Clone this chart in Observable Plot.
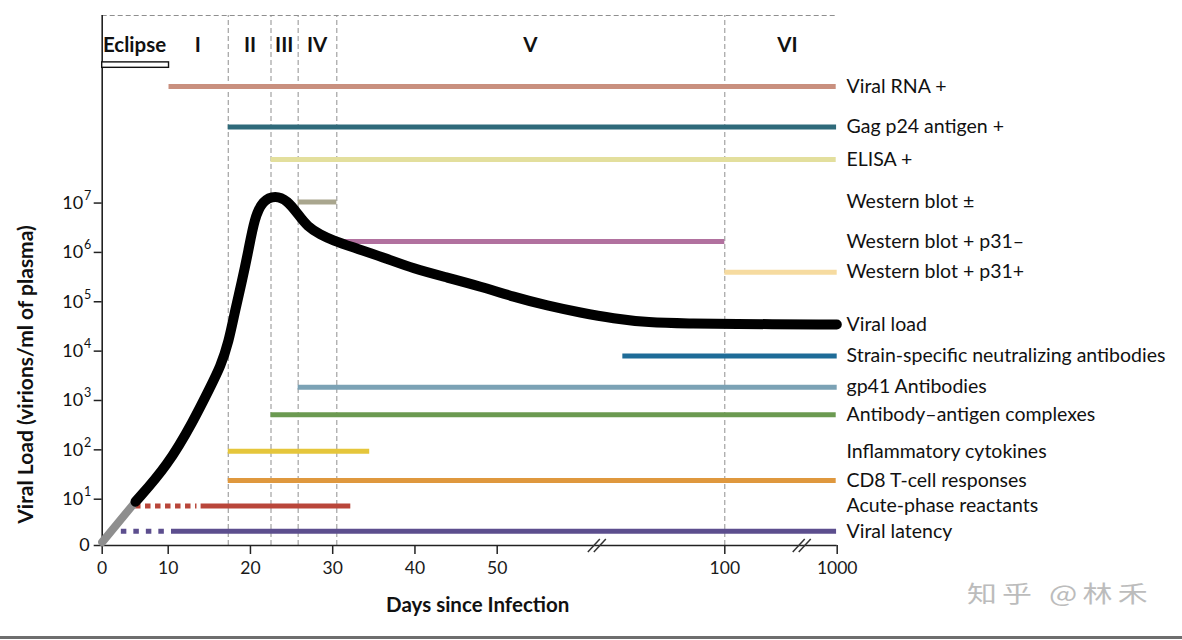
<!DOCTYPE html>
<html><head><meta charset="utf-8">
<script src="https://cdn.jsdelivr.net/npm/d3@7"></script>
<script src="https://cdn.jsdelivr.net/npm/@observablehq/plot@0.6"></script>
<style>
body{margin:0;background:#fff;}
#wrap{position:relative;width:1182px;height:640px;overflow:hidden;background:#fff;}
#wm{position:absolute;left:967px;top:575px;font:23px "Noto Sans CJK SC",sans-serif;color:#bcbcbc;letter-spacing:4px;white-space:nowrap;transform:scaleX(1.3);transform-origin:0 50%;}
#bl{position:absolute;left:0;top:636px;width:1182px;height:3px;background:#6e6e6e;}
#chart [aria-label*="axis"] line, #chart [aria-label*="axis"] path{stroke:#222;stroke-width:1.5;}
</style></head><body>
<div id="wrap"><div id="chart"></div><div id="wm">知乎 @林禾</div><div id="bl"></div></div>
<script>
// ---- days axis with breaks: day -> position along the axis ----
const xDomain = [0, 10, 50, 100, 1000];
const xAxisPos = [0, 66, 395, 622.6, 735];
const xTicks = [0, 10, 20, 30, 40, 50, 100, 1000];
const axisBreaks = [72, 720];
// ---- viral load axis (log10 virions/ml); "0" sits just below 10^1 ----
const yTickExps = [1, 2, 3, 4, 5, 6, 7];
const yZero = 0.062;
const yTop = 10.8;

// ---- stages ----
const stageBounds = [17.3, 22.5, 25.8, 30.5, 100];
const stageNames = ["Eclipse", "I", "II", "III", "IV", "V", "VI"];
const stageLabelDays = [4.9, 13.6, 19.95, 24.1, 28.1, 57.3, 602];
const stageLabelLevel = 10.19;
const eclipseBox = {start: 0, end: 10.1, low: 9.74, high: 9.85};

// ---- viral load curve (days, log10 virions/ml) ----
const earlyDays = [0, 5.05];
const earlyLog = [0.13, 0.95];
const vlDays = [5.05, 9.9, 13.08, 15.14, 16.36, 17.33, 18.18, 18.91, 19.76, 20.49, 21.46, 23.04, 24.5, 25.71, 26.93, 28.51, 30.09, 32.16, 36.17, 39.82, 43.95, 47.97, 53.58, 61.05, 68.3, 75.55, 83.02, 92.5, 99.93, 997];
const vlLog  = [0.95, 1.68, 2.59, 3.28, 3.69, 4.17, 4.86, 5.37, 6.04, 6.69, 7.05, 7.16, 7.05, 6.79, 6.52, 6.36, 6.24, 6.12, 5.90, 5.67, 5.49, 5.31, 5.10, 4.92, 4.78, 4.66, 4.58, 4.56, 4.55, 4.54];
const vlLabel = "Viral load";
const vlLabelLevel = 4.54;

// ---- markers ----
const barNames = ["Viral RNA +", "Gag p24 antigen +", "ELISA +", "Western blot ±", "Western blot + p31–", "Western blot + p31+", "Strain-specific neutralizing antibodies", "gp41 Antibodies", "Antibody–antigen complexes", "Inflammatory cytokines", "CD8 T-cell responses", "Acute-phase reactants", "Viral latency"];
const barLevels = [9.36, 8.54, 7.88, 7.02, 6.22, 5.6, 3.9, 3.27, 2.71, 1.97, 1.38, 0.86, 0.35];
const barStarts = [10.1, 17.3, 22.5, 25.8, 30.5, 100, 77.6, 25.8, 22.5, 17.3, 17.3, 14.0, 10.4];
const barEnds   = [992, 995, 992, 30.5, 100, 1000, 1000, 1000, 992, 34.5, 992, 32.2, 995];
const barColors = ["#c9907f", "#2f6a7a", "#e3df9d", "#a9a68e", "#b1719f", "#f6dba0", "#1e6c98", "#7ba2b5", "#6b9a51", "#e5c63b", "#df983e", "#b9463a", "#5c4e8e"];

const dottedNames = ["Acute-phase reactants", "Viral latency"];
const dottedStarts = [5.05, 2.9];
const dottedEnds = [13.5, 9.7];
const dottedColors = ["#b9463a", "#5c4e8e"];
const dottedDash = ["5.5,4.5", "5.5,7"];

// ---- build tables ----
const dayPos = d3.scaleLinear(xDomain, xAxisPos);
const bars = barNames.map((n, i) => ({name: n, level: barLevels[i], start: barStarts[i], end: barEnds[i], color: barColors[i]}));
const labels = [...bars.map(b => ({name: b.name, level: b.level})), {name: vlLabel, level: vlLabelLevel}];
const stages = stageNames.map((n, i) => ({name: n, day: stageLabelDays[i]}));
const early = earlyDays.map((d, i) => ({day: d, log: earlyLog[i]}));
const vl = vlDays.map((d, i) => ({day: d, log: vlLog[i]}));
const dotted = dottedNames.map((n, i) => ({name: n, level: barLevels[barNames.indexOf(n)], start: dottedStarts[i], end: dottedEnds[i], color: dottedColors[i]}));
const tickLabel = new Map(xTicks.map(t => [dayPos(t), String(t)]));

const W = 1182, H = 640, ML = 101.7, MR = 345.3, MT = 15, MB = 95;
const fallbackX = d3.scaleLinear([0, xAxisPos[xAxisPos.length - 1]], [ML, W - MR]);
const fallbackY = d3.scaleLinear([yZero, yTop], [H - MB, MT]);

function breakMarks(index, scales) {
  const sx = scales && typeof scales.x === "function" ? scales.x : fallbackX;
  const sy = scales && typeof scales.y === "function" ? scales.y : fallbackY;
  const g = d3.create("svg:g").attr("aria-label", "breaks");
  for (const b of axisBreaks) {
    const cx = sx(dayPos(b)), cy = sy(yZero);
    for (const o of [-3, 3]) {
      g.append("line")
        .attr("x1", cx - 6 + o).attr("y1", cy + 7)
        .attr("x2", cx + 6 + o).attr("y2", cy - 6)
        .attr("stroke", "#333").attr("stroke-width", 1.5);
    }
  }
  return g.node();
}

const X = k => d => dayPos(d[k]);

const chart = Plot.plot({
  width: W, height: H,
  marginLeft: ML, marginRight: MR, marginTop: MT, marginBottom: MB,
  style: {fontFamily: "Lato, sans-serif", fontSize: "17.5px", color: "#1a1a1a", background: "white"},
  x: {domain: [0, xAxisPos[xAxisPos.length - 1]], ticks: xTicks.map(t => dayPos(t)), tickFormat: p => tickLabel.get(p) ?? "", tickSize: 9, tickPadding: 7, label: null},
  y: {domain: [yZero, yTop], ticks: [yZero, ...yTickExps], tickFormat: () => "", tickSize: 8, label: null},
  color: {type: "identity"},
  marks: [
    Plot.ruleX(stageBounds, {x: d => dayPos(d), y1: () => yZero, y2: () => yTop, stroke: "#8f8f8f", strokeDasharray: "5,3", strokeWidth: 1}),
    Plot.ruleY([yTop], {y: d => d, x1: () => dayPos(0), x2: () => dayPos(1000), stroke: "#8f8f8f", strokeDasharray: "5,3", strokeWidth: 1}),
    Plot.ruleX([0], {x: d => dayPos(d), y1: () => yZero, y2: () => yTop, stroke: "#222", strokeWidth: 1.6}),
    Plot.ruleY([yZero], {y: d => d, x1: () => dayPos(0), x2: () => dayPos(1000), stroke: "#222", strokeWidth: 1.6}),
    breakMarks,
    Plot.rect([eclipseBox], {x1: X("start"), x2: X("end"), y1: "low", y2: "high", fill: "white", stroke: "#111", strokeWidth: 1.4}),
    Plot.ruleY(bars, {y: "level", x1: X("start"), x2: X("end"), stroke: "color", strokeWidth: 5}),
    Plot.ruleY([dotted[0]], {y: "level", x1: X("start"), x2: X("end"), stroke: "color", strokeWidth: 5, strokeDasharray: dottedDash[0]}),
    Plot.ruleY([dotted[1]], {y: "level", x1: X("start"), x2: X("end"), stroke: "color", strokeWidth: 5, strokeDasharray: dottedDash[1]}),
    Plot.line(early, {x: X("day"), y: "log", stroke: "#8e8e8e", strokeWidth: 8}),
    Plot.line(vl, {x: X("day"), y: "log", stroke: "black", strokeWidth: 10, curve: "basis", strokeLinecap: "round", strokeLinejoin: "round"}),
    Plot.text(stages, {x: X("day"), y: () => stageLabelLevel, text: "name", fontWeight: "bold", fontSize: 20.5, fill: "#111"}),
    Plot.text(labels, {x: () => dayPos(1000), y: "level", text: "name", textAnchor: "start", dx: 9.3, fontSize: 19.5, fill: "#111"}),
    Plot.text(yTickExps, {y: d => d, frameAnchor: "left", text: () => "10", textAnchor: "end", dx: -19, fontSize: 18, fill: "#111"}),
    Plot.text(yTickExps, {y: d => d, frameAnchor: "left", text: d => String(d), textAnchor: "start", dx: -18.3, dy: -7, fontSize: 12.5, fill: "#111"}),
    Plot.text([yZero], {y: d => d, frameAnchor: "left", text: () => "0", textAnchor: "end", dx: -12.5, fontSize: 18, fill: "#111"}),
    Plot.text(["Days since Infection"], {frameAnchor: "bottom", text: d => d, textAnchor: "middle", dx: 8, dy: 66, fontWeight: "bold", fontSize: 20.5, fill: "#111"}),
    Plot.text(["Viral Load (virions/ml of plasma)"], {frameAnchor: "left", text: d => d, textAnchor: "middle", rotate: -90, dx: -75.7, dy: 94, fontWeight: "bold", fontSize: 21, fill: "#111"})
  ]
});
document.getElementById("chart").appendChild(chart);
</script>
</body></html>
